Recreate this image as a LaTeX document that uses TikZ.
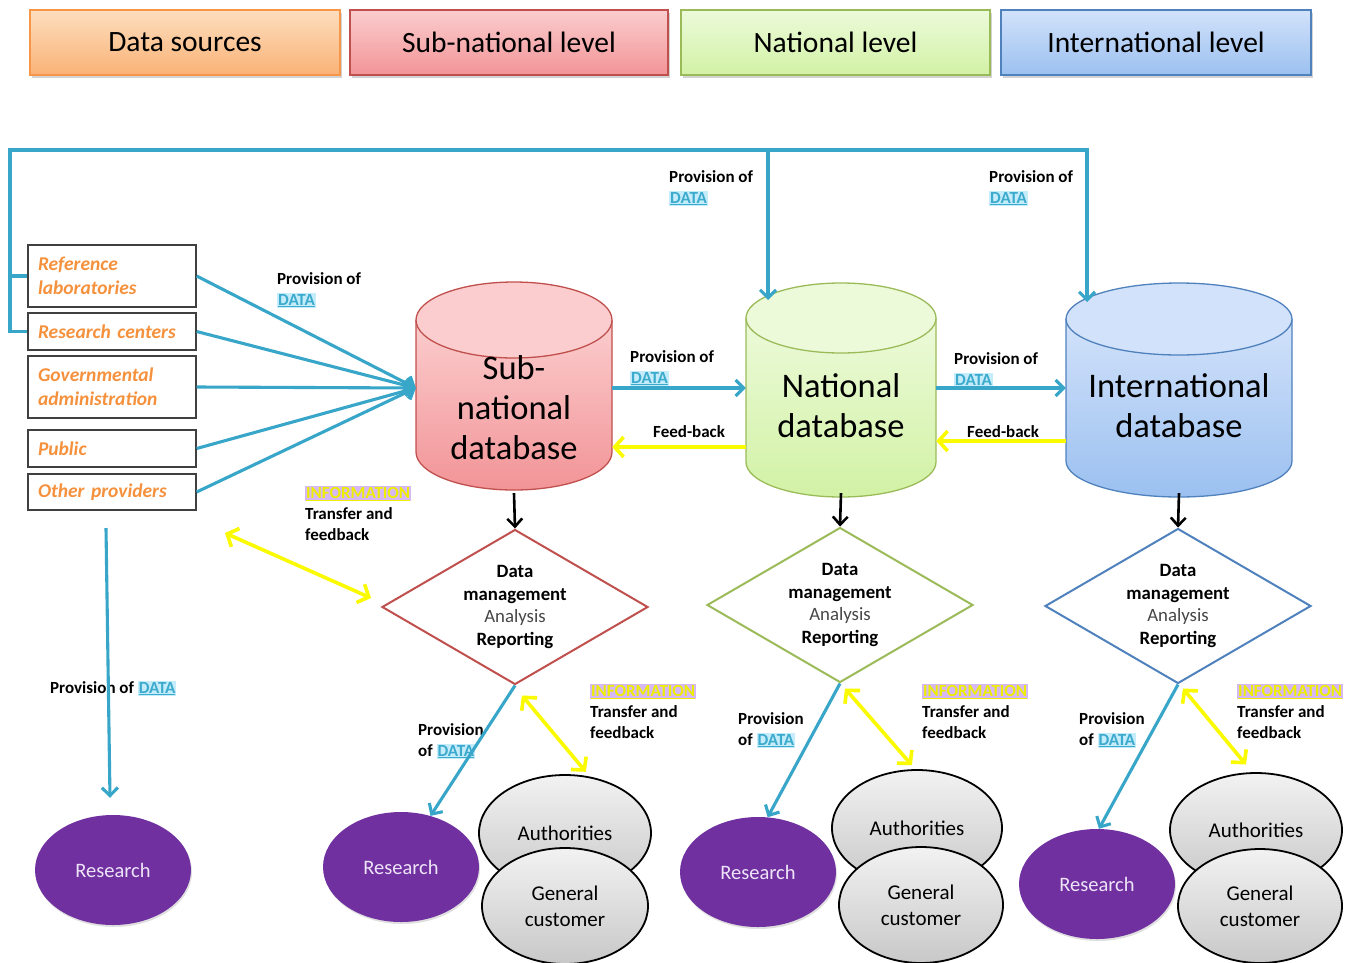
\documentclass[tikz,border=0pt]{standalone}
\usepackage{fontspec}
\setmainfont{Carlito}
\usetikzlibrary{shapes.geometric,arrows.meta,shadows}
\definecolor{tealL}{RGB}{56,166,200}
\definecolor{yelL}{RGB}{250,250,0}
\definecolor{orgB}{RGB}{247,150,70}
\definecolor{orgTop}{RGB}{253,222,190}
\definecolor{orgBot}{RGB}{250,178,118}
\definecolor{redB}{RGB}{192,80,77}
\definecolor{redTop}{RGB}{251,205,206}
\definecolor{redBot}{RGB}{242,148,151}
\definecolor{grnB}{RGB}{155,187,89}
\definecolor{grnTop}{RGB}{236,250,218}
\definecolor{grnBot}{RGB}{210,242,165}
\definecolor{bluB}{RGB}{79,129,189}
\definecolor{bluTop}{RGB}{210,226,250}
\definecolor{bluBot}{RGB}{155,192,240}
\definecolor{datFg}{RGB}{60,170,205}
\definecolor{datBg}{RGB}{196,236,250}
\definecolor{infFg}{RGB}{238,238,0}
\definecolor{infBg}{RGB}{214,184,242}
\definecolor{purp}{RGB}{112,48,160}
\definecolor{purpTxt}{RGB}{238,228,248}
\definecolor{grayTop}{RGB}{242,242,242}
\definecolor{grayBot}{RGB}{200,200,200}
\definecolor{srcTxt}{RGB}{245,145,60}
\definecolor{anaTxt}{RGB}{70,70,70}
\newcommand{\dataword}{{\setlength{\fboxsep}{1pt}\colorbox{datBg}{\textcolor{datFg}{\underline{DATA}}}}}
\newcommand{\infoword}{{\setlength{\fboxsep}{1pt}\colorbox{infBg}{\textcolor{infFg}{\underline{INFORMATION}}}}}
\newcommand{\dbcyl}[8]{%
  \shade[top color=#6,bottom color=#7] (#1-#4,#2) -- (#1-#4,#3) arc[start angle=180,end angle=360,x radius=#4,y radius=#5] -- (#1+#4,#2) -- cycle;
  \draw[#8,line width=1.3] (#1-#4,#2) -- (#1-#4,#3) arc[start angle=180,end angle=360,x radius=#4,y radius=#5] -- (#1+#4,#2);
  \draw[#8,line width=1.3,fill=#6] (#1,#2) ellipse[x radius=#4,y radius=#5];
}
\begin{document}
\begin{tikzpicture}[x=1pt,y=1pt,
  hdr/.style={rectangle,line width=1.5,minimum height=65,inner sep=0,
    drop shadow={opacity=0.35,shadow xshift=2pt,shadow yshift=-3pt},
    font=\fontsize{29.5}{34}\selectfont},
  srcbox/.style={rectangle,draw=black!75,line width=1.3,text width=148,inner xsep=10,inner ysep=0,
    align=left,text=srcTxt,font=\bfseries\itshape\fontsize{19.5}{24}\selectfont},
  dbbody/.style={rectangle,inner sep=0,minimum height=210},
  dbtxt/.style={align=center,font=\fontsize{34.5}{40}\selectfont,inner sep=0},
  dmd/.style={diamond,aspect=1.72,inner sep=0,line width=2,minimum width=266,minimum height=155,
    align=center,font=\fontsize{18.8}{22.5}\selectfont},
  res/.style={ellipse,fill=purp,text=purpTxt,minimum width=156,minimum height=110,inner sep=0,
    drop shadow={opacity=0.25,shadow xshift=1pt,shadow yshift=-2pt},
    font=\fontsize{20.5}{24}\selectfont},
  grp/.style={ellipse,draw=black,line width=1.8,top color=grayTop,bottom color=grayBot,
    minimum width=170,minimum height=116,inner sep=0,align=center,font=\fontsize{21}{26}\selectfont},
  lbl/.style={anchor=north west,inner sep=0,align=left,font=\bfseries\fontsize{17}{21}\selectfont},
  data/.style={draw=tealL,line width=3.1},
  darr/.style={data,-{Straight Barb[length=8pt,width=16pt]}},
  fb/.style={draw=yelL,line width=3.6,-{Straight Barb[length=9pt,width=20pt]}},
  fbb/.style={draw=yelL,line width=3.6,{Straight Barb[length=9pt,width=20pt]}-{Straight Barb[length=9pt,width=20pt]}},
  blk/.style={draw=black,line width=2.6,-{Straight Barb[length=8pt,width=15pt]}}
]
\useasboundingbox (0,0) rectangle (1347,-962);

% header boxes
\node[hdr,minimum width=310,draw=orgB,top color=orgTop,bottom color=orgBot] (h1) at (185,-42.5) {Data sources};
\node[hdr,minimum width=318,draw=redB,top color=redTop,bottom color=redBot] (h2) at (509,-42.5) {Sub-national level};
\node[hdr,minimum width=309,draw=grnB,top color=grnTop,bottom color=grnBot] (h3) at (835.5,-42.5) {National level};
\node[hdr,minimum width=310,draw=bluB,top color=bluTop,bottom color=bluBot] (h4) at (1156,-42.5) {International level};

% source boxes
\node[srcbox,minimum height=62] (src1) at (112,-276) {Reference\\laboratories};
\node[srcbox,minimum height=37] (src2) at (112,-331.5) {Research centers};
\node[srcbox,minimum height=62] (src3) at (112,-387) {Governmental\\administration};
\node[srcbox,minimum height=37] (src4) at (112,-448.5) {Public};
\node[srcbox,minimum height=36] (src5) at (112,-492) {Other providers};

% databases
\dbcyl{514}{-320}{-452}{98}{38}{redTop}{redBot}{redB}
\dbcyl{841}{-318}{-462}{95}{35}{grnTop}{grnBot}{grnB}
\dbcyl{1179}{-319}{-461}{113}{36}{bluTop}{bluBot}{bluB}
\node[dbbody,minimum width=196] (subdb) at (514,-388) {};
\node[dbbody,minimum width=190] (natdb) at (841,-388) {};
\node[dbbody,minimum width=226] (intdb) at (1179,-388) {};
\node[dbtxt] (subtxt) at (514,-408) {Sub-\\national\\database};
\node[dbtxt] (nattxt) at (841,-406) {National\\database};
\node[dbtxt] (inttxt) at (1179,-406) {International\\database};

% diamonds
\node[dmd,draw=redB] (sdm) at (515,-607) {\textbf{Data}\\\textbf{management}\\\textcolor{anaTxt}{Analysis}\\\textbf{Reporting}};
\node[dmd,draw=grnB] (ndm) at (840,-605) {\textbf{Data}\\\textbf{management}\\\textcolor{anaTxt}{Analysis}\\\textbf{Reporting}};
\node[dmd,draw=bluB] (idm) at (1178,-606) {\textbf{Data}\\\textbf{management}\\\textcolor{anaTxt}{Analysis}\\\textbf{Reporting}};

% users
\node[res] (r0) at (113,-870) {Research};
\node[res] (r1) at (401,-867) {Research};
\node[res] (r2) at (758,-872) {Research};
\node[res] (r3) at (1097,-884) {Research};
\node[grp,minimum width=172] (a1) at (565,-833) {Authorities};
\node[grp,minimum width=166] (g1) at (565,-906) {General\\customer};
\node[grp,minimum width=170] (a2) at (917,-828) {Authorities};
\node[grp,minimum width=164] (g2) at (921,-905) {General\\customer};
\node[grp,minimum width=172,minimum height=114] (a3) at (1256,-830) {Authorities};
\node[grp,minimum width=164,minimum height=114] (g3) at (1260,-906) {General\\customer};

% labels
\node[lbl] (l1) at (277,-272) {Provision of\\\dataword};
\node[lbl] (l2) at (669,-170) {Provision of\\\dataword};
\node[lbl] (l3) at (989,-170) {Provision of\\\dataword};
\node[lbl] (l4) at (630,-350) {Provision of\\\dataword};
\node[lbl] (l5) at (954,-352) {Provision of\\\dataword};
\node[lbl] (l6) at (653,-425) {Feed-back};
\node[lbl] (l7) at (967,-425) {Feed-back};
\node[lbl] (l8) at (305,-486) {\infoword\\Transfer and\\feedback};
\node[lbl] (l9) at (50,-681) {Provision of \dataword};
\node[lbl] (l10) at (418,-723) {Provision\\of \dataword};
\node[lbl] (l11) at (738,-712) {Provision\\of \dataword};
\node[lbl] (l12) at (1079,-712) {Provision\\of \dataword};
\node[lbl] (l13) at (590,-684) {\infoword\\Transfer and\\feedback};
\node[lbl] (l14) at (922,-684) {\infoword\\Transfer and\\feedback};
\node[lbl] (l15) at (1237,-684) {\infoword\\Transfer and\\feedback};

% coordinates
\coordinate (loopL) at (10,-150);
\coordinate (natIn) at (768,-300);
\coordinate (intIn) at (1087,-302);
\coordinate (lstart) at (106,-528);
\coordinate (ystart) at (225,-533);

% connectors: data
\foreach \s in {src1,src2,src3,src4,src5} \draw[darr] (\s.east) -- (subdb.west);
\draw[darr] (src2.west) -| (loopL) -| (intIn);
\draw[data] (src1.west) -- (src1.west -| loopL);
\draw[darr] (natIn |- loopL) -- (natIn);
\draw[darr] (subdb.east) -- (natdb.west);
\draw[darr] (natdb.east) -- (intdb.west);
\draw[fb] ([yshift=-59pt]natdb.west) -- ([yshift=-59pt]subdb.east);
\draw[fb] ([yshift=-53pt]intdb.west) -- ([yshift=-53pt]natdb.east);
\draw[blk] (subdb.south) -- (sdm.north);
\draw[blk] (natdb.south) -- (ndm.north);
\draw[blk] (intdb.south) -- (idm.north);
\draw[darr] (sdm.south) -- (r1.60);
\draw[darr] (ndm.south) -- (r2.80);
\draw[darr] (idm.south) -- (r3.88);
\draw[darr] (lstart) -- ([shift={(-3pt,17pt)}]r0.north);
\draw[fbb] (ystart) -- ([shift={(-10pt,9pt)}]sdm.west);
\draw[fbb] ([shift={(7pt,-10pt)}]sdm.south) -- ([yshift=4pt]a1.70);
\draw[fbb] ([shift={(5pt,-5pt)}]ndm.south) -- ([yshift=4pt]a2.95);
\draw[fbb] ([shift={(5pt,-4pt)}]idm.south) -- ([yshift=8pt]a3.100);
\end{tikzpicture}
\end{document}
